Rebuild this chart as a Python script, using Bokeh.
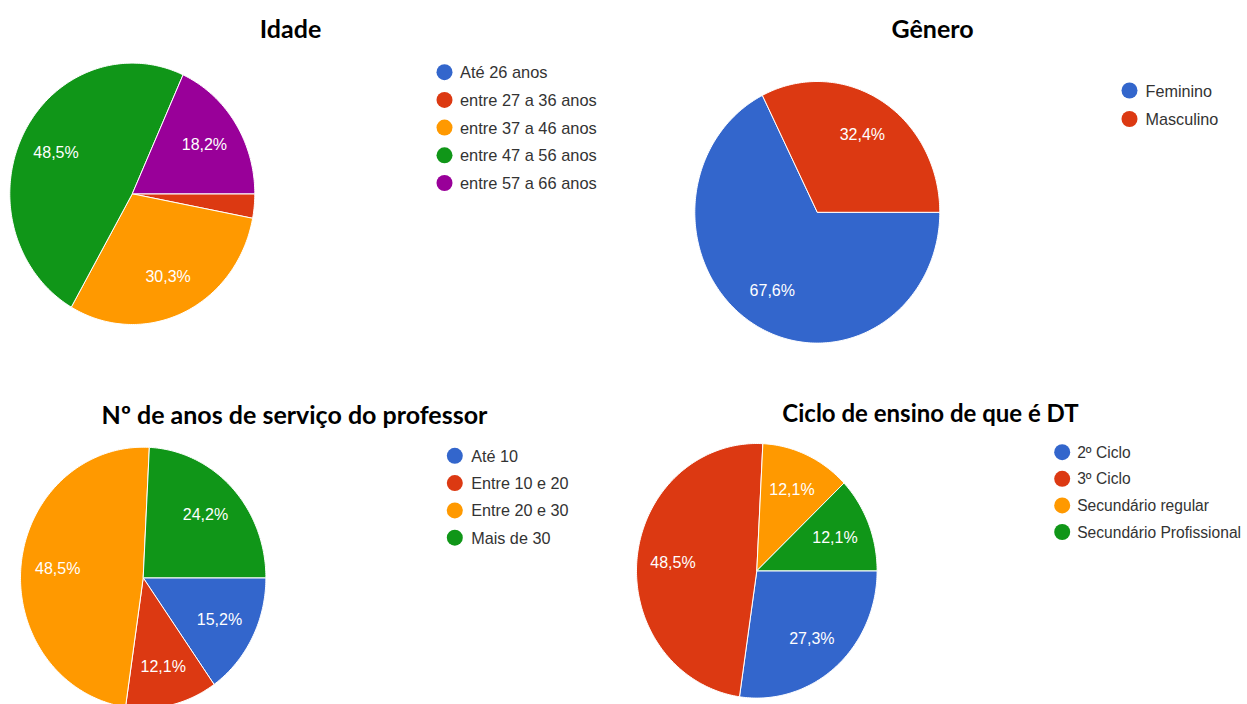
import numpy as np
from bokeh.plotting import figure
from bokeh.models import Range1d, ColumnDataSource
from bokeh.core.properties import value
from bokeh.embed import file_html
from bokeh.resources import INLINE

# ---------------- data ----------------
titles = ["Idade", "Gênero", "Nº de anos de serviço do professor", "Ciclo de ensino de que é DT"]

idade_cats = ["Até 26 anos", "entre 27 a 36 anos", "entre 37 a 46 anos",
              "entre 47 a 56 anos", "entre 57 a 66 anos"]
idade_vals = [0.0, 3.0, 30.3, 48.5, 18.2]

genero_cats = ["Feminino", "Masculino"]
genero_vals = [67.6, 32.4]

anos_cats = ["Até 10", "Entre 10 e 20", "Entre 20 e 30", "Mais de 30"]
anos_vals = [15.2, 12.1, 48.5, 24.2]

ciclo_cats = ["2º Ciclo", "3º Ciclo", "Secundário regular", "Secundário Profissional"]
ciclo_vals = [27.3, 48.5, 12.1, 12.1]

colors = ["#3366CC", "#DC3912", "#FF9900", "#109618", "#990099"]

# ---------------- layout (screen pixels) ----------------
W, H = 1247, 704
panels = [
    dict(cats=idade_cats, vals=idade_vals, title=titles[0],
         c=(131.8, 193.3), rx=122.5, ry=130.7, t=(290, 27.0), tfs="25px",
         leg=(444, 71.7), step=27.7, tx=459.5, fs="16.4px"),
    dict(cats=genero_cats, vals=genero_vals, title=titles[1],
         c=(816.8, 211.8), rx=122.5, ry=130.8, t=(932, 27.0), tfs="25px",
         leg=(1129, 90.0), step=28.5, tx=1145, fs="16.2px"),
    dict(cats=anos_cats, vals=anos_vals, title=titles[2],
         c=(142.7, 577.3), rx=122.7, ry=130.6, t=(294, 413.0), tfs="25px",
         leg=(454.3, 455.3), step=27.3, tx=470.7, fs="16.2px"),
    dict(cats=ciclo_cats, vals=ciclo_vals, title=titles[3],
         c=(756.3, 570.3), rx=120.3, ry=127.3, t=(930, 411.5), tfs="24px",
         leg=(1061.7, 451.7), step=26.6, tx=1076.7, fs="15.6px"),
]

p = figure(width=W, height=H,
           x_range=Range1d(0, W), y_range=Range1d(0, H),
           x_axis_type=None, y_axis_type=None,
           output_backend="svg", toolbar_location=None, min_border=0)
p.grid.visible = False
p.outline_line_color = None
p.background_fill_color = "white"
p.border_fill_color = "white"

def fy(y):
    return H - y

for pn in panels:
    cx, cy = pn["c"][0], fy(pn["c"][1])
    rx, ry = pn["rx"], pn["ry"]
    vals = np.array(pn["vals"], dtype=float)
    fr = vals / vals.sum()
    cum = np.concatenate([[0.0], np.cumsum(fr)])
    xs, ys, cols = [], [], []
    lx, ly, lt = [], [], []
    for i, f in enumerate(fr):
        if f <= 0:
            continue
        a0, a1 = -2 * np.pi * cum[i], -2 * np.pi * cum[i + 1]
        n = max(3, int(abs(a1 - a0) * 60))
        th = np.linspace(a0, a1, n)
        xs.append(np.concatenate([[cx], cx + rx * np.cos(th)]).tolist())
        ys.append(np.concatenate([[cy], cy + ry * np.sin(th)]).tolist())
        cols.append(colors[i])
        if f >= 0.05:
            am = (a0 + a1) / 2
            lx.append(cx + 0.70 * rx * np.cos(am))
            ly.append(cy + 0.70 * ry * np.sin(am))
            lt.append(f"{vals[i]:.1f}".replace(".", ",") + "%")
    p.patches(xs="xs", ys="ys", fill_color="cols", line_color="white", line_width=1,
              source=ColumnDataSource(dict(xs=xs, ys=ys, cols=cols)))
    p.text(x="x", y="y", text="t", source=ColumnDataSource(dict(x=lx, y=ly, t=lt)),
           text_color="white", text_font=value("Liberation Sans"), text_font_size="16px",
           text_align="center", text_baseline="middle")
    # title
    p.text(x=[pn["t"][0]], y=[fy(pn["t"][1])], text=[pn["title"]],
           text_font=value("Lato"), text_font_style="bold", text_font_size=pn["tfs"],
           text_color="#000000", text_align="center", text_baseline="middle")
    # legend
    k = len(pn["cats"])
    idx = np.arange(k)
    ly_leg = [fy(pn["leg"][1] + i * pn["step"]) for i in idx]
    p.scatter(x=[pn["leg"][0]] * k, y=ly_leg, size=16, marker="circle",
              fill_color=colors[:k], line_color=None)
    p.text(x=[pn["tx"]] * k, y=ly_leg, text=pn["cats"],
           text_font=value("Liberation Sans"), text_font_size=pn["fs"],
           text_color="#333333", text_align="left", text_baseline="middle")

open("out.html", "w").write(file_html(p, INLINE))
